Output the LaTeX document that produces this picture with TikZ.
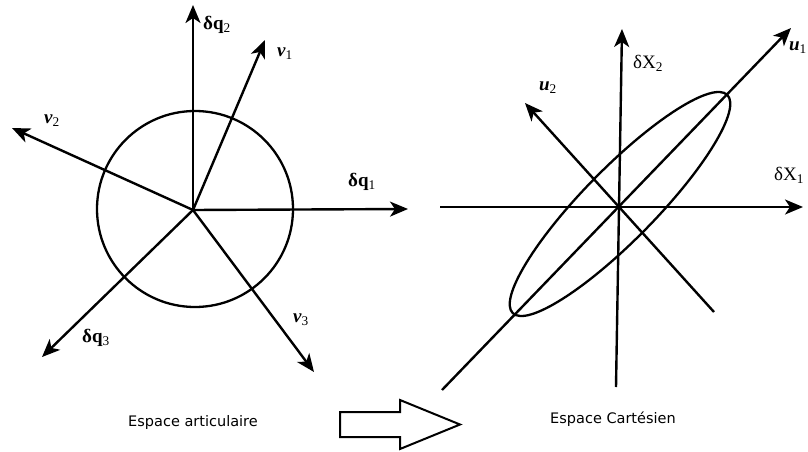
\documentclass[tikz,border=0pt]{standalone}
\usepackage{fontspec}
\setmainfont{Liberation Serif}
\newfontfamily\legende{DejaVu Sans}
\usepackage{tikz}
\usetikzlibrary{arrows.meta, positioning}
\tikzstyle{axe} = [draw, line width=2.4pt, -{Stealth[length=18pt, width=15pt, inset=5pt]}]
\tikzstyle{etiq} = [font=\fontsize{19}{21}\selectfont, inner sep=0pt]
\tikzstyle{titre} = [font=\legende\fontsize{14.5}{17}\selectfont, inner sep=0pt]

\begin{document}
\begin{tikzpicture}[x=1pt, y=-1pt]
        \useasboundingbox (0,0) rectangle (808,452);
        % Espace articulaire
        \coordinate (O) at (193,210);
        \coordinate (q1) at (408,209);
        \coordinate (q2) at (193,5);
        \coordinate (q3) at (42,357);
        \coordinate (v1) at (265,40);
        \coordinate (v2) at (12,128);
        \coordinate (v3) at (314,372);
        \draw [line width=2.3pt] (195,209) circle (98);
        \path [axe] (O) -- (q1);
        \path [axe] (O) -- (q2);
        \path [axe] (O) -- (q3);
        \path [axe] (O) -- (v1);
        \path [axe] (O) -- (v2);
        \path [axe] (O) -- (v3);
        \node [etiq] (lq1) at (362,182) {\textbf{δq}\textsubscript{1}};
        \node [etiq] (lq2) at (217,25) {\textbf{δq}\textsubscript{2}};
        \node [etiq] (lq3) at (96,338) {\textbf{δq}\textsubscript{3}};
        \node [etiq] (lv1) at (285,54) {\textbf{\textit{ν}}\textsubscript{1}};
        \node [etiq] (lv2) at (52,121) {\textbf{\textit{ν}}\textsubscript{2}};
        \node [etiq] (lv3) at (301,320) {\textbf{\textit{ν}}\textsubscript{3}};
        \node [titre] (art) at (193,422) {Espace articulaire};

        % Fleche de passage
        \draw [line width=2pt] (340,412) -- (400,412) -- (400,400) -- (460,424.5)
              -- (400,449) -- (400,437) -- (340,437) -- cycle;

        % Espace cartesien
        \coordinate (C) at (619,207);
        \coordinate (x1a) at (440,207);
        \coordinate (x1) at (803,207);
        \coordinate (x2a) at (616,387);
        \coordinate (x2) at (622,29);
        \coordinate (u1a) at (442,390);
        \coordinate (u1) at (791,28);
        \coordinate (u2a) at (714,312);
        \coordinate (u2) at (525,103);
        \draw [line width=2.3pt, rotate around={45.5:(620,204)}] (620,204) ellipse [x radius=153, y radius=36];
        \path [axe] (x1a) -- (x1);
        \path [axe] (x2a) -- (x2);
        \path [axe] (u1a) -- (u1);
        \path [axe] (u2a) -- (u2);
        \node [etiq] (lx1) at (789,175) {δX\textsubscript{1}};
        \node [etiq] (lx2) at (648,63) {δX\textsubscript{2}};
        \node [etiq] (lu2) at (548,88) {\textbf{\textit{u}}\textsubscript{2}};
        \node [etiq, anchor=east] (lu1) at (807,48) {\textbf{\textit{u}}\textsubscript{1}};
        \node [titre] (cart) at (613,419) {Espace Cartésien};
    \end{tikzpicture}
\end{document}
